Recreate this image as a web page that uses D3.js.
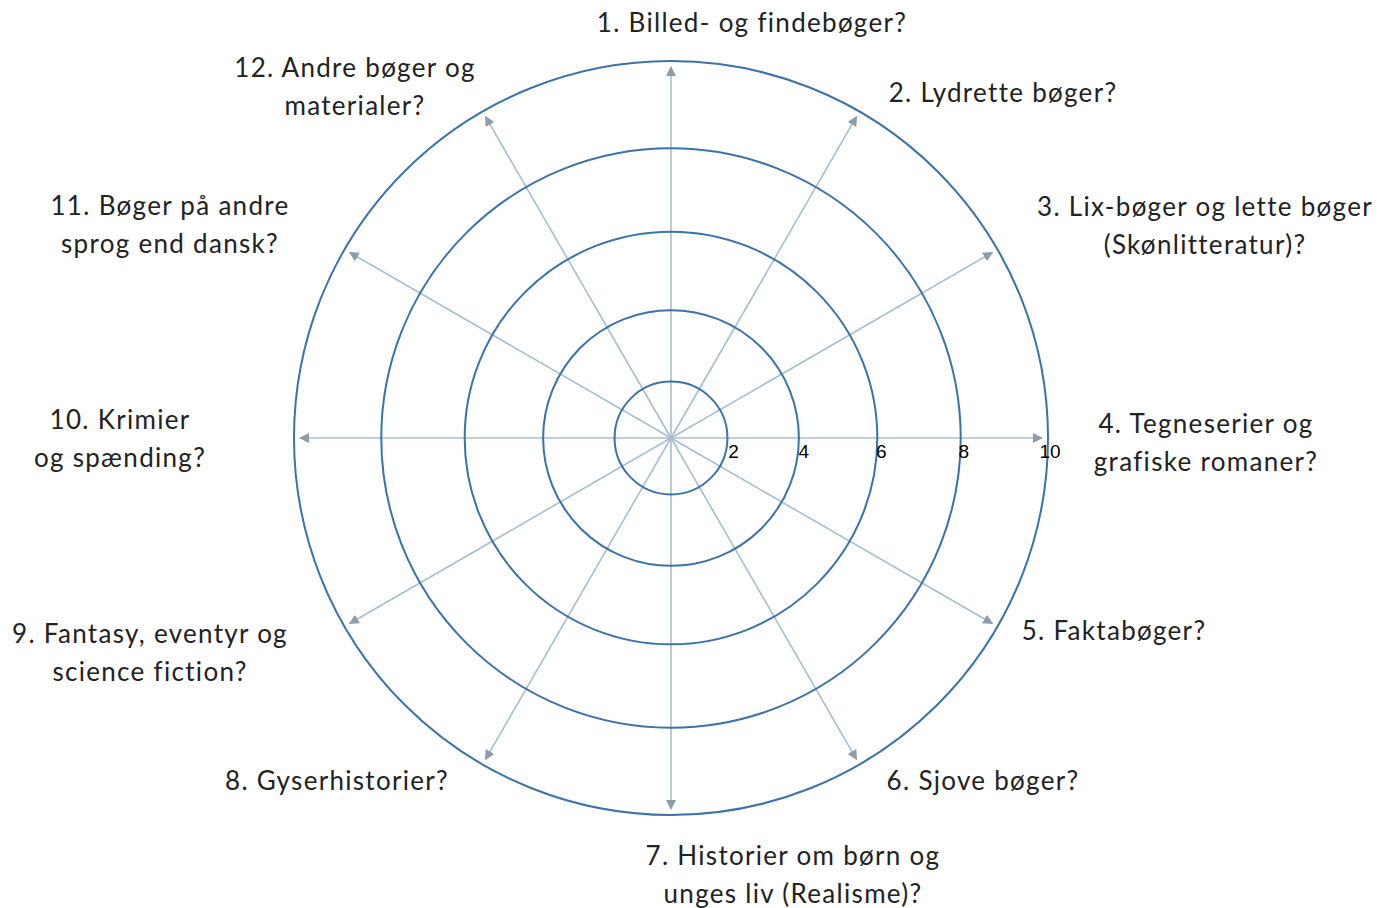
<!DOCTYPE html>
<html>
<head>
<meta charset="utf-8">
<script src="https://cdn.jsdelivr.net/npm/d3@7"></script>
<style>
  html, body { margin: 0; padding: 0; background: #ffffff; }
  svg { display: block; }
</style>
</head>
<body>
<svg id="chart" width="1388" height="908"></svg>
<script>
// ---- data ----
const categories = [
  ["1. Billed- og findebøger?"],
  ["2. Lydrette bøger?"],
  ["3. Lix-bøger og lette bøger", "(Skønlitteratur)?"],
  ["4. Tegneserier og", "grafiske romaner?"],
  ["5. Faktabøger?"],
  ["6. Sjove bøger?"],
  ["7. Historier om børn og", "unges liv (Realisme)?"],
  ["8. Gyserhistorier?"],
  ["9. Fantasy, eventyr og", "science fiction?"],
  ["10. Krimier", "og spænding?"],
  ["11. Bøger på andre", "sprog end dansk?"],
  ["12. Andre bøger og", "materialer?"]
];
const ringValues = [2, 4, 6, 8, 10];
const tickLabels = ["2", "4", "6", "8", "10"];
const scaleMax = 10;

// ---- layout (label offsets from chart centre: dx, first baseline dy) ----
const labelLayout = [
  [81, -406], [332, -336], [534, -222], [535, -5],
  [443, 202], [312, 352], [122, 427], [-334, 352],
  [-521, 205], [-551, -9], [-501, -223], [-316, -361]
];

const cx = 671, cy = 438;
const svg = d3.select("#chart");

const r = d3.scalePow().exponent(1.18).domain([0, scaleMax]).range([0, 377]);
const angle = d3.scaleLinear().domain([0, categories.length]).range([0, 2 * Math.PI]);

const defs = svg.append("defs");
defs.append("marker")
  .attr("id", "arrow")
  .attr("viewBox", "0 0 10 10")
  .attr("refX", 9).attr("refY", 5)
  .attr("markerWidth", 10).attr("markerHeight", 10)
  .attr("markerUnits", "userSpaceOnUse")
  .attr("orient", "auto")
  .append("path")
  .attr("d", "M0,0 L10,5 L0,10 Z")
  .attr("fill", "#8e9ca8");

const g = svg.append("g").attr("transform", `translate(${cx},${cy})`);

// spokes
g.selectAll("line.spoke")
  .data(categories)
  .join("line")
  .attr("class", "spoke")
  .attr("x1", 0).attr("y1", 0)
  .attr("x2", (d, i) => (r(scaleMax) - 6) * Math.sin(angle(i)))
  .attr("y2", (d, i) => -(r(scaleMax) - 6) * Math.cos(angle(i)))
  .attr("stroke", "#a6bfce")
  .attr("stroke-width", 1.6)
  .attr("marker-end", "url(#arrow)");

// rings
g.selectAll("circle.ring")
  .data(ringValues)
  .join("circle")
  .attr("class", "ring")
  .attr("r", d => r(d))
  .attr("fill", "none")
  .attr("stroke", "#3b72a8")
  .attr("stroke-width", 2);

// tick labels
g.selectAll("text.tick")
  .data(ringValues)
  .join("text")
  .attr("class", "tick")
  .attr("x", (d, i) => r(d) + 6 - i)
  .attr("y", 20)
  .attr("text-anchor", "middle")
  .attr("font-family", "'Liberation Sans', Arial, sans-serif")
  .attr("font-size", 19)
  .attr("fill", "#000")
  .text((d, i) => tickLabels[i]);

// category labels
const lab = g.selectAll("text.cat")
  .data(categories)
  .join("text")
  .attr("class", "cat")
  .attr("text-anchor", "middle")
  .attr("font-family", "Lato, 'Open Sans', sans-serif")
  .attr("font-size", 26)
  .attr("letter-spacing", 1.3)
  .attr("fill", "#222");
lab.each(function(d, i) {
  const t = d3.select(this);
  d.forEach((line, j) => {
    t.append("tspan")
      .attr("x", labelLayout[i][0])
      .attr("y", labelLayout[i][1] + j * 38)
      .text(line);
  });
});
</script>
</body>
</html>
